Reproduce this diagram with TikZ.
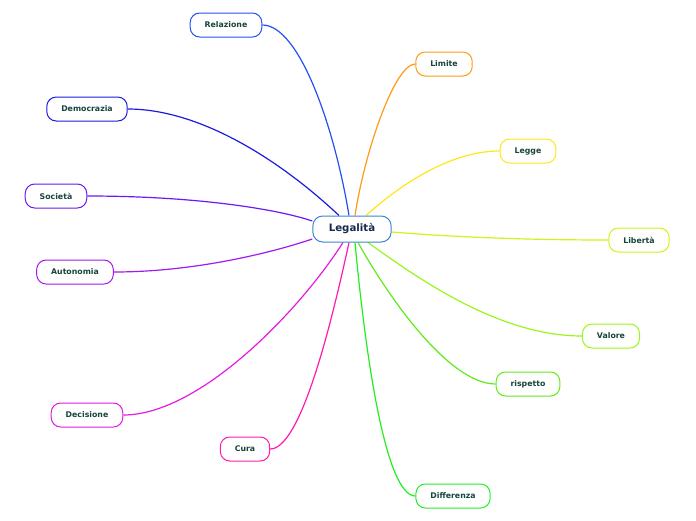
\documentclass[tikz,border=0pt]{standalone}
\usepackage{fontspec}
\setmainfont{DejaVu Sans}
\usepackage{xcolor}
\usetikzlibrary{positioning,backgrounds}
\definecolor{centreline}{HTML}{3A86D4}
\definecolor{centretext}{HTML}{15294F}
\definecolor{topictext}{HTML}{17453A}
\definecolor{crel}{HTML}{2350F0}
\definecolor{clim}{HTML}{FF9A16}
\definecolor{cdem}{HTML}{1A1AE0}
\definecolor{cleg}{HTML}{FFE61A}
\definecolor{csoc}{HTML}{6A1AF5}
\definecolor{clib}{HTML}{CCF51A}
\definecolor{caut}{HTML}{A21AF0}
\definecolor{cval}{HTML}{9AF51A}
\definecolor{cris}{HTML}{5EEB1A}
\definecolor{cdec}{HTML}{E41AE4}
\definecolor{ccur}{HTML}{FF1AB0}
\definecolor{cdif}{HTML}{22EE22}
\tikzset{
    centrenode/.style={draw=centreline, line width=1pt, fill=white, rounded corners=10pt, font=\fontsize{10.2}{12}\selectfont\bfseries, text=centretext, inner xsep=16pt, minimum height=26pt},
    topicnode/.style={draw=#1, line width=1pt, fill=white, rounded corners=9.5pt, font=\fontsize{7.8}{9}\selectfont\bfseries, text=topictext, inner xsep=14.5pt, minimum height=24pt},
    branch/.style={draw=#1, line width=1.2pt}
}
\begin{document}
\begin{tikzpicture}[x=1pt, y=-1pt]
        \useasboundingbox (0,0) rectangle (696,520);

        \node[centrenode] (ctr) at (352,229) {Legalità};

        \node[topicnode=crel] (rel) at (226,25) {Relazione};
        \node[topicnode=clim] (lim) at (444,64) {Limite};
        \node[topicnode=cdem] (dem) at (87,109) {Democrazia};
        \node[topicnode=cleg] (leg) at (528,151) {Legge};
        \node[topicnode=csoc] (soc) at (56,196) {Società};
        \node[topicnode=clib] (lib) at (639,240) {Libertà};
        \node[topicnode=caut] (aut) at (75,272) {Autonomia};
        \node[topicnode=cval] (val) at (611,336) {Valore};
        \node[topicnode=cris] (ris) at (528,384) {rispetto};
        \node[topicnode=cdec] (dec) at (87,415) {Decisione};
        \node[topicnode=ccur] (cur) at (245,449) {Cura};
        \node[topicnode=cdif] (dif) at (453,496) {Differenza};

        % branches behind the boxes
        \begin{scope}[on background layer]
        \draw[branch=crel] (rel.east) .. controls (300,25) and (335,130) .. ([xshift=-3pt]ctr.north);
        \draw[branch=clim] (lim.west) .. controls (395,64) and (365,150) .. ([xshift=3pt]ctr.north);
        \draw[branch=cdem] (dem.east) .. controls (200,109) and (280,160) .. ([xshift=-13pt]ctr.north);
        \draw[branch=cleg] (leg.west) .. controls (450,151) and (400,185) .. ([xshift=14pt]ctr.north);
        \draw[branch=csoc] (soc.east) .. controls (200,196) and (280,210) .. ([yshift=8pt]ctr.west);
        \draw[branch=clib] (lib.west) .. controls (500,240) and (430,235) .. ([yshift=-3pt]ctr.east);
        \draw[branch=caut] (aut.east) .. controls (200,272) and (280,250) .. ([yshift=-10pt]ctr.west);
        \draw[branch=cval] (val.west) .. controls (500,336) and (420,280) .. ([xshift=16pt]ctr.south);
        \draw[branch=cris] (ris.west) .. controls (450,384) and (390,300) .. ([xshift=6pt]ctr.south);
        \draw[branch=cdec] (dec.east) .. controls (200,415) and (300,310) .. ([xshift=-9pt]ctr.south);
        \draw[branch=ccur] (cur.east) .. controls (300,449) and (330,330) .. ([xshift=-3pt]ctr.south);
        \draw[branch=cdif] (dif.west) .. controls (385,496) and (365,350) .. ([xshift=3pt]ctr.south);
        \end{scope}
    \end{tikzpicture}
\end{document}
